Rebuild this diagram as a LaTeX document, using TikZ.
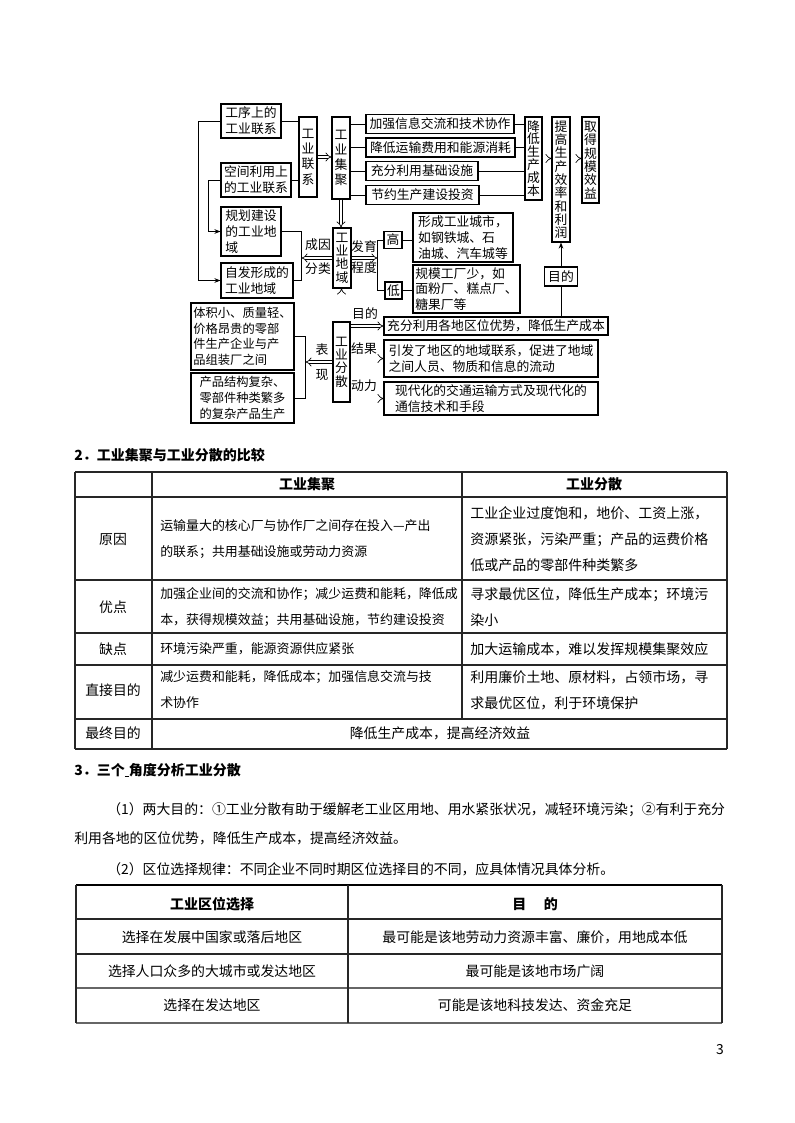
\documentclass[tikz,border=0pt]{standalone}
\usepackage{fontspec}
\setmainfont{Noto Sans CJK SC}
\usetikzlibrary{arrows.meta, positioning, calc}

\newcommand{\dgfont}{\fontsize{9.6}{11.8}\selectfont}
\newcommand{\smfont}{\fontsize{9.2}{11.8}\selectfont}
\newcommand{\vtfont}{\fontsize{9.6}{10}\selectfont}
\newcommand{\vwfont}{\fontsize{9.6}{11.4}\selectfont}
\newcommand{\tbfont}{\fontsize{9.7}{19.5}\selectfont}
\newcommand{\twfont}{\fontsize{10.5}{19.5}\selectfont}
\newcommand{\txfont}{\fontsize{10.4}{12}\selectfont}
\newcommand{\hdfont}{\fontsize{10.5}{12}\selectfont\bfseries}
\tikzset{sz/.style 2 args={minimum width=#1*0.75pt, minimum height=#2*0.75pt}}

\begin{document}
\begin{tikzpicture}[x=0.75pt, y=-0.75pt,
  box/.style={draw, line width=0.85pt, inner sep=1.2pt, font=\dgfont, align=left},
  vbox/.style={draw, line width=0.85pt, inner sep=0.6pt, font=\vtfont, align=center},
  link/.style={line width=0.7pt},
  arrow/.style={-{Stealth[length=4.5pt, width=3.5pt]}, line width=0.7pt},
  dbl/.style={double, double distance=1.8pt, line width=0.5pt, -{Implies}},
  lbl/.style={font=\dgfont, inner sep=0pt},
  grid/.style={line width=0.9pt, black!85},
  cell/.style={font=\tbfont, inner sep=0pt, anchor=west, align=left},
  wcell/.style={font=\twfont, inner sep=0pt, anchor=west, align=left},
  ctr/.style={font=\txfont, inner sep=0pt},
  hd/.style={font=\hdfont, inner sep=0pt}]

\useasboundingbox (0,0) rectangle (794,1123);
\fill[white] (0,0) rectangle (794,1123);

% diagram: left column
\node[box, sz={60}{34}] (gx) at (251,121) {工序上的\\工业联系};
\node[box, sz={70}{34}] (kj) at (256,180) {空间利用上\\的工业联系};
\node[box, sz={60}{49}] (gh) at (251,231.5) {规划建设\\的工业地\\域};
\node[box, sz={72}{35}] (zf) at (257,280.5) {自发形成的\\工业地域};
\node[box, sz={103}{67}, font=\smfont] (tj) at (242.5,336.5) {体积小、质量轻、\\价格昂贵的零部\\件生产企业与产\\品组装厂之间};
\node[box, sz={103}{50}, font=\smfont] (cp) at (242.5,398) {产品结构复杂、\\零部件种类繁多\\的复杂产品生产};

% diagram: vertical boxes
\node[vbox, sz={18}{80}, font=\vwfont] (lx) at (308,157) {工\\业\\联\\系};
\node[vbox, sz={18}{82}, font=\vwfont] (jj) at (341,158) {工\\业\\集\\聚};
\node[vbox, sz={18}{60}] (dy) at (342,258) {工\\业\\地\\域};
\node[vbox, sz={17}{80}] (fs) at (341.5,362) {工\\业\\分\\散};

% diagram: agglomeration effects
\node[box, sz={148}{19}] (b1) at (440,124) {加强信息交流和技术协作};
\node[box, sz={149}{19}] (b2) at (440.5,147.5) {降低运输费用和能源消耗};
\node[box, sz={112}{19}] (b3) at (422,171) {充分利用基础设施};
\node[box, sz={113}{19}] (b4) at (422.5,195) {节约生产建设投资};
\node[vbox, sz={17}{83}, font=\fontsize{9.6}{9.7}\selectfont] (cb) at (533.5,158.5) {降\\低\\生\\产\\成\\本};
\node[vbox, sz={18}{125}] (xl) at (561,179.5) {提\\高\\生\\产\\效\\率\\和\\利\\润};
\node[vbox, sz={17}{86}] (gm) at (590.5,160) {取\\得\\规\\模\\效\\益};
\node[box, sz={33}{19}] (md) at (561,276.5) {目的};

% diagram: development degree
\node[box, sz={18}{17}, inner sep=0.5pt] (gao) at (393,240) {高};
\node[box, sz={17}{17}, inner sep=0.5pt] (di) at (393.5,290.5) {低};
\node[box, sz={100}{49}] (cs) at (463,237.5) {形成工业城市，\\如钢铁城、石\\油城、汽车城等};
\node[box, sz={107}{48}] (gc) at (466.5,289) {规模工厂少，如\\面粉厂、糕点厂、\\糖果厂等};

% diagram: dispersion
\node[box, sz={224}{18}] (r1) at (496,326) {充分利用各地区位优势，降低生产成本};
\node[box, sz={214}{37}] (r2) at (491,358.5) {引发了地区的地域联系，促进了地域\\之间人员、物质和信息的流动};
\node[box, sz={214}{33}] (r3) at (491,398.5) {现代化的交通运输方式及现代化的\\通信技术和手段};

% labels
\node[lbl] (cyl) at (318,245) {成因};
\node[lbl] (fll) at (318,269) {分类};
\node[lbl] (fyl) at (364,247) {发育};
\node[lbl] (cdl) at (364,268) {程度};
\node[lbl] (bil) at (322,350) {表};
\node[lbl] (xil) at (322,375) {现};
\node[lbl] (mdl) at (365,314) {目的};
\node[lbl] (jgl) at (364,349) {结果};
\node[lbl] (dll) at (364,386) {动力};

% connectors
\draw[link] (gx.east) -- (gx.east -| lx.west);
\draw[link] (kj.east) -- (kj.east -| lx.west);
\draw[arrow] (gx.west) -- ++(-22,0) |- (zf.west);
\draw[arrow] (kj.west) -- ++(-12,0) |- (gh.west);
\draw[link] (gh.east) -- ++(20,0) coordinate (cy) |- (zf.east);
\draw[dbl] (lx.east) -- (lx.east -| jj.west);
\draw[dbl] (jj.south) -- (jj.south |- dy.north);
\draw[dbl] (dy.west) -- (dy.west -| cy);
\foreach \b in {b1,b2,b3,b4} {
  \draw[link] (jj.east |- \b.west) -- (\b.west);
  \draw[link] (\b.east) -- (\b.east -| cb.west);
}
\draw[dbl] (cb.east) -- (cb.east -| xl.west);
\draw[dbl] (xl.east |- cb.east) -- (cb.east -| gm.west);
\draw[link] (gao.west) -- ++(-6,0) coordinate (cg) |- (di.west);
\draw[dbl] (dy.east) -- (dy.east -| cg);
\draw[link] (gao.east) -- (gao.east -| cs.west);
\draw[link] (di.east) -- (di.east -| gc.west);
\draw[dbl] (fs.north) -- (fs.north |- dy.south);
\draw[link] (tj.east) -- ++(11,0) coordinate (ct) |- (cp.east);
\draw[dbl] (fs.west) -- (fs.west -| ct);
\draw[dbl] (fs.east |- r1.west) -- (r1.west);
\draw[dbl] (fs.east |- r2.west) -- (r2.west);
\draw[dbl] (fs.east |- r3.west) -- (r3.west);
\draw[link] (r1.north -| md.south) -- (md.south);
\draw[arrow] (md.north) -- (md.north |- xl.south);

% section 2
\node[hd, anchor=west] (h2) at (74,455) {2．工业集聚与工业分散的比较};
\draw[grid] (75,472) -- (727,472) (75,497) -- (727,497) (75,580) -- (727,580)
  (75,633) -- (727,633) (75,665) -- (727,665) (75,719) -- (727,719) (75,749) -- (727,749);
\draw[grid] (75,472) -- (75,749) (152,472) -- (152,749) (462,472) -- (462,719) (727,472) -- (727,749);
\node[hd] (c12) at (307,484) {工业集聚};
\node[hd] (c13) at (594,484) {工业分散};
\node[ctr] (c21) at (113,540) {原因};
\node[ctr] (c31) at (113,607) {优点};
\node[ctr] (c41) at (113,649) {缺点};
\node[ctr] (c51) at (113,690) {直接目的};
\node[ctr] (c61) at (113,733) {最终目的};
\node[cell] (c22) at (160,539) {运输量大的核心厂与协作厂之间存在投入—产出\\的联系；共用基础设施或劳动力资源};
\node[wcell] (c23) at (470,539) {工业企业过度饱和，地价、工资上涨，\\资源紧张，污染严重；产品的运费价格\\低或产品的零部件种类繁多};
\node[cell] (c32) at (160,607) {加强企业间的交流和协作；减少运费和能耗，降低成\\本，获得规模效益；共用基础设施，节约建设投资};
\node[wcell] (c33) at (470,607) {寻求最优区位，降低生产成本；环境污\\染小};
\node[cell] (c42) at (160,649) {环境污染严重，能源资源供应紧张};
\node[wcell] (c43) at (470,649) {加大运输成本，难以发挥规模集聚效应};
\node[cell] (c52) at (160,690) {减少运费和能耗，降低成本；加强信息交流与技\\术协作};
\node[wcell] (c53) at (470,690) {利用廉价土地、原材料，占领市场，寻\\求最优区位，利于环境保护};
\node[ctr] (c62) at (440,733) {降低生产成本，提高经济效益};

% section 3
\node[hd, anchor=west] (h3) at (74,770) {3．三个\rule[-1.5pt]{3pt}{0.5pt}角度分析工业分散};
\node[ctr, anchor=west] (p1) at (107,810) {（1）两大目的：①工业分散有助于缓解老工业区用地、用水紧张状况，减轻环境污染；②有利于充分};
\node[ctr, anchor=west] (p2) at (74,838) {利用各地的区位优势，降低生产成本，提高经济效益。};
\node[ctr, anchor=west] (p3) at (107,869) {（2）区位选择规律：不同企业不同时期区位选择目的不同，应具体情况具体分析。};

\draw[line width=1.1pt] (76,885) -- (722,885);
\draw[grid] (76,919) -- (722,919) (76,954) -- (722,954);
\draw[line width=1.1pt, black!60] (76,988) -- (722,988) (76,1023) -- (722,1023);
\draw[grid] (76,885) -- (76,1023) (348,885) -- (348,1023) (722,885) -- (722,1023);
\node[hd] (d11) at (212,904) {工业区位选择};
\node[hd] (d12) at (535,904) {目\hspace{1.25em}的};
\node[ctr] (d21) at (212,937) {选择在发展中国家或落后地区};
\node[ctr] (d22) at (535,937) {最可能是该地劳动力资源丰富、廉价，用地成本低};
\node[ctr] (d31) at (212,971) {选择人口众多的大城市或发达地区};
\node[ctr] (d32) at (535,971) {最可能是该地市场广阔};
\node[ctr] (d41) at (212,1005) {选择在发达地区};
\node[ctr] (d42) at (535,1005) {可能是该地科技发达、资金充足};

\node[ctr] (pg) at (720,1050) {3};
\end{tikzpicture}
\end{document}
